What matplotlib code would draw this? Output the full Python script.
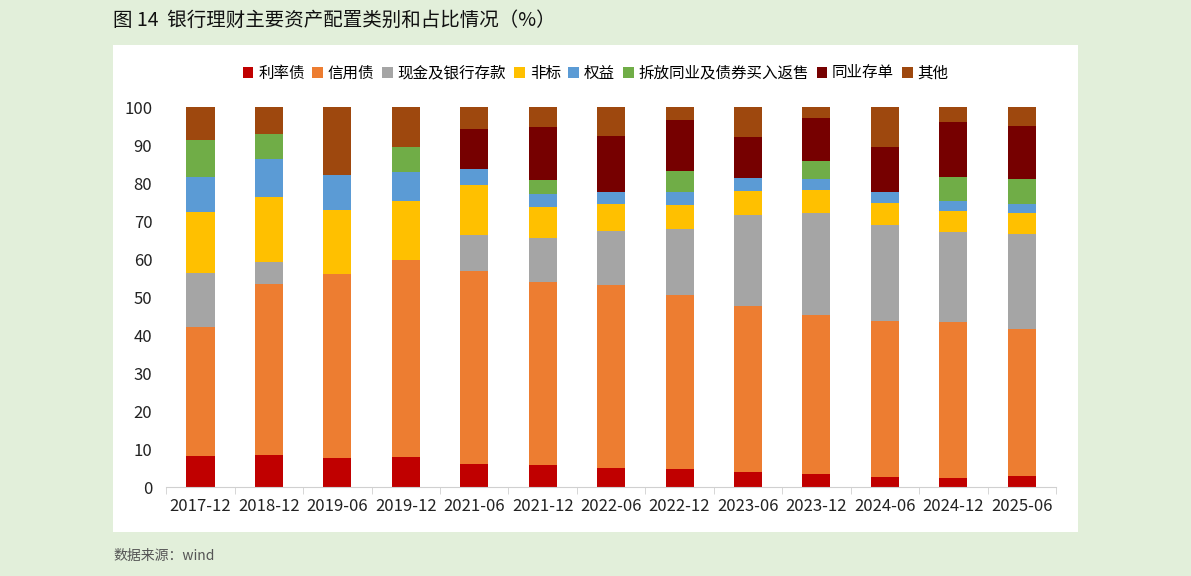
import matplotlib
matplotlib.use("Agg")
import matplotlib.pyplot as plt
import numpy as np
from matplotlib.patches import Rectangle

plt.rcParams["font.family"] = ["Noto Sans CJK SC", "DejaVu Sans"]

periods = ["2017-12", "2018-12", "2019-06", "2019-12", "2021-06", "2021-12",
           "2022-06", "2022-12", "2023-06", "2023-12", "2024-06", "2024-12",
           "2025-06"]

rate_bonds = [8.1, 8.3, 7.7, 8.0, 6.1, 5.7, 5.1, 4.7, 3.9, 3.3, 2.7, 2.3, 2.9]
credit_bonds = [34.0, 45.0, 48.3, 51.7, 50.8, 48.3, 48.1, 45.7, 43.8, 42.0, 41.1, 41.1, 38.8]
cash_deposits = [14.1, 5.8, 0, 0, 9.5, 11.4, 14.2, 17.4, 23.8, 26.7, 25.2, 23.8, 24.9]
non_standard = [16.1, 17.1, 16.9, 15.6, 13.1, 8.3, 7.1, 6.5, 6.5, 6.2, 5.8, 5.5, 5.5]
equity = [9.3, 10.1, 9.3, 7.6, 4.2, 3.4, 3.2, 3.3, 3.2, 2.9, 2.9, 2.6, 2.3]
interbank_repo = [9.6, 6.6, 0, 6.5, 0, 3.7, 0, 5.6, 0, 4.7, 0, 6.3, 6.6]
ncds = [0, 0, 0, 0, 10.4, 14.0, 14.6, 13.3, 10.8, 11.3, 11.8, 14.5, 13.9]
others = [8.8, 7.1, 17.8, 10.6, 5.9, 5.2, 7.7, 3.5, 8.0, 2.9, 10.5, 3.9, 5.1]

series = [
    ("利率债", rate_bonds, "#C00000"),
    ("信用债", credit_bonds, "#ED7D31"),
    ("现金及银行存款", cash_deposits, "#A5A5A5"),
    ("非标", non_standard, "#FFC000"),
    ("权益", equity, "#5B9BD5"),
    ("拆放同业及债券买入返售", interbank_repo, "#70AD47"),
    ("同业存单", ncds, "#760000"),
    ("其他", others, "#9E480E"),
]

fig = plt.figure(figsize=(11.91, 5.76), dpi=100)
fig.patch.set_facecolor("#E2EFDA")
# white chart panel behind the axes
fig.patches.append(Rectangle((113 / 1191, 1 - 532 / 576), 965 / 1191, 487 / 576,
                             transform=fig.transFigure, facecolor="white",
                             edgecolor="none", zorder=-5))

ax = fig.add_axes([0.1396, 0.1545, 0.747, 0.6597])
ax.set_facecolor("none")
ax.set_zorder(1)

x = np.arange(len(periods))
bottom = np.zeros(len(periods))
for name, vals, color in series:
    vals = np.array(vals)
    ax.bar(x, vals, 0.41, bottom=bottom, color=color, label=name,
           edgecolor="none", zorder=2)
    bottom += vals

ax.set_xlim(-0.5, len(periods) - 0.5)
ax.set_ylim(0, 100)
ax.set_yticks(range(0, 101, 10))
ax.set_xticks(x)
ax.set_xticklabels(periods)
ax.set_xticks(np.arange(-0.5, len(periods)), minor=True)
ax.tick_params(axis="x", which="major", length=0, labelsize=12, pad=8,
               colors="#222222")
ax.tick_params(axis="x", which="minor", length=5, color="#D0D0D0")
ax.tick_params(axis="y", length=0, labelsize=12, pad=10, colors="#222222")
for side in ("top", "right", "left"):
    ax.spines[side].set_visible(False)
ax.spines["bottom"].set_color("#D0D0D0")

fig.legend(loc="center", bbox_to_anchor=(0.5, 1 - 73 / 576), ncol=8,
           frameon=False, fontsize=11.2, handlelength=0.7, handleheight=0.7,
           handletextpad=0.3, columnspacing=0.5)

fig.text(113 / 1191, 1 - 20 / 576, "图 14  银行理财主要资产配置类别和占比情况（%）",
         fontsize=14, va="center", ha="left", color="#111111")
fig.text(113 / 1191, 1 - 556 / 576, "数据来源：wind", fontsize=10,
         va="center", ha="left", color="#555555")

fig.savefig("out.png", dpi=100, facecolor=fig.get_facecolor())
